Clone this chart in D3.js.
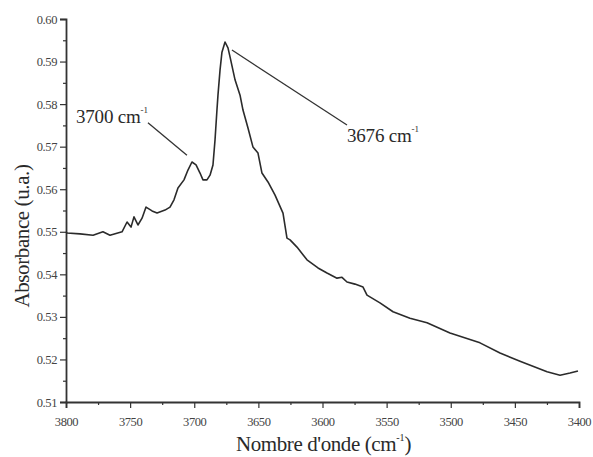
<!DOCTYPE html>
<html>
<head>
<meta charset="utf-8">
<script src="https://cdn.jsdelivr.net/npm/d3@7"></script>
<style>
  html, body { margin: 0; padding: 0; background: #fff; }
  svg { display: block; }
  text { font-family: "Liberation Serif", "Times New Roman", serif; fill: #2a2a2a; }
</style>
</head>
<body>
<svg id="chart" width="593" height="457"></svg>
<script>
// Wavenumbers (cm-1) and absorbance (u.a.)
const wavenumbers = [3800, 3799.2, 3789.1, 3778.9, 3771.2, 3765.7, 3756.3, 3752.4, 3749.3, 3747.0,
  3743.9, 3740.7, 3737.6, 3732.9, 3729.0, 3722.8, 3718.9, 3715.8, 3712.7, 3708.0,
  3704.9, 3701.8, 3698.6, 3695.5, 3693.2, 3690.1, 3687.7, 3685.4, 3683.8, 3682.3,
  3681.5, 3679.9, 3678.4, 3676.0, 3673.7, 3672.1, 3668.2, 3664.3, 3662.0, 3658.1,
  3654.2, 3650.3, 3647.2, 3642.5, 3637.0, 3630.8, 3627.7, 3625.3, 3619.9, 3612.1,
  3603.5, 3596.5, 3588.7, 3584.8, 3580.9, 3574.7, 3568.4, 3565.3, 3555.2, 3545.0,
  3531.8, 3518.5, 3500.6, 3477.2, 3461.6, 3446.0, 3424.9, 3414.8, 3407.0, 3400.8];
const absorbance = [0.5500, 0.5497, 0.5495, 0.5492, 0.5500, 0.5492, 0.5500, 0.5523, 0.5511, 0.5535,
  0.5516, 0.5532, 0.5558, 0.5549, 0.5544, 0.5551, 0.5558, 0.5575, 0.5603, 0.5622,
  0.5645, 0.5664, 0.5657, 0.5638, 0.5622, 0.5622, 0.5633, 0.5657, 0.5716, 0.5786,
  0.5821, 0.5880, 0.5922, 0.5946, 0.5932, 0.5911, 0.5857, 0.5821, 0.5786, 0.5744,
  0.5699, 0.5685, 0.5638, 0.5617, 0.5586, 0.5544, 0.5485, 0.5481, 0.5464, 0.5434,
  0.5415, 0.5403, 0.5391, 0.5393, 0.5382, 0.5377, 0.5370, 0.5351, 0.5333, 0.5312,
  0.5297, 0.5286, 0.5262, 0.5239, 0.5215, 0.5196, 0.5171, 0.5163, 0.5168, 0.5173];

const xTickValues = [3800, 3750, 3700, 3650, 3600, 3550, 3500, 3450, 3400];
const xMinorTicks = [3775, 3725, 3675, 3625, 3575, 3525, 3475, 3425];
const yTickValues = [0.51, 0.52, 0.53, 0.54, 0.55, 0.56, 0.57, 0.58, 0.59, 0.60];
const yMinorTicks = [0.515, 0.525, 0.535, 0.545, 0.555, 0.565, 0.575, 0.585, 0.595];

// Annotations: label text, label anchor (data coords), leader line (data coords)
const annotations = [
  { text: "3700 cm", sup: "-1", at: [3792.2, 0.5756], line: [[3736.1, 0.5756], [3705.7, 0.5680]] },
  { text: "3676 cm", sup: "-1", at: [3580.9, 0.5711], line: [[3670.6, 0.5927], [3580.9, 0.5751]] }
];
const xTitle = "Nombre d'onde (cm";
const yTitle = "Absorbance (u.a.)";

const serif = '"Liberation Serif", "Times New Roman", serif';
const svg = d3.select("#chart");
const x = d3.scaleLinear().domain([3800, 3400]).range([66, 579]);
const y = d3.scaleLinear().domain([0.51, 0.60]).range([402, 19]);

const axisColor = "#333";

// X axis
const gx = svg.append("g").attr("transform", `translate(0,${y(0.51)})`);
gx.call(d3.axisBottom(x).tickValues(xTickValues).tickSize(6).tickFormat(d3.format("d")));
const gxm = gx.append("g").call(d3.axisBottom(x).tickValues(xMinorTicks).tickSize(3).tickFormat(""));
gxm.select(".domain").remove();
gx.attr("font-family", null);
gx.selectAll(".domain").attr("stroke", axisColor).attr("stroke-width", 1.8);
gx.selectAll("line").attr("stroke", axisColor).attr("stroke-width", 1.2);
gx.selectAll("text").attr("dy", "1.2em")
  .style("font-family", serif).style("font-size", "12.5px").style("fill", "#444")
  .style("letter-spacing", "-0.4px");

// Y axis
const gy = svg.append("g").attr("transform", `translate(${x(3800)},0)`);
gy.call(d3.axisLeft(y).tickValues(yTickValues).tickSize(6).tickFormat(d3.format(".2f")));
const gym = gy.append("g").call(d3.axisLeft(y).tickValues(yMinorTicks).tickSize(3).tickFormat(""));
gym.select(".domain").remove();
gy.attr("font-family", null);
gy.selectAll(".domain").attr("stroke", axisColor).attr("stroke-width", 1.8);
gy.selectAll("line").attr("stroke", axisColor).attr("stroke-width", 1.2);
gy.selectAll("text").attr("x", -9)
  .style("font-family", serif).style("font-size", "12.5px").style("fill", "#444")
  .style("letter-spacing", "-0.4px");

// Spectrum line
const data = wavenumbers.map((w, i) => [w, absorbance[i]]);
svg.append("path")
  .datum(data)
  .attr("fill", "none")
  .attr("stroke", "#2b2b2b")
  .attr("stroke-width", 1.6)
  .attr("stroke-linejoin", "round")
  .attr("d", d3.line().x(d => x(d[0])).y(d => y(d[1])));

// Annotations
annotations.forEach(a => {
  svg.append("line")
    .attr("x1", x(a.line[0][0])).attr("y1", y(a.line[0][1]))
    .attr("x2", x(a.line[1][0])).attr("y2", y(a.line[1][1]))
    .attr("stroke", "#333").attr("stroke-width", 1.3);
  const t = svg.append("text")
    .attr("x", x(a.at[0])).attr("y", y(a.at[1]))
    .attr("font-size", 19).attr("letter-spacing", -0.2);
  t.append("tspan").text(a.text);
  t.append("tspan").attr("dy", -10).attr("font-size", 9).attr("letter-spacing", 0).text(a.sup);
});

// Axis titles
const xt = svg.append("text")
  .attr("x", (x(3800) + x(3400)) / 2 + 1)
  .attr("y", 451)
  .attr("text-anchor", "middle")
  .attr("font-size", 21).attr("letter-spacing", -0.4);
xt.append("tspan").text(xTitle);
xt.append("tspan").attr("dy", -10).attr("font-size", 10).attr("letter-spacing", 0).text("-1");
xt.append("tspan").attr("dy", 10).text(")");

svg.append("text")
  .attr("transform", `translate(29,236) rotate(-90)`)
  .attr("text-anchor", "middle")
  .attr("font-size", 21).attr("letter-spacing", -0.4)
  .text(yTitle);
</script>
</body>
</html>
